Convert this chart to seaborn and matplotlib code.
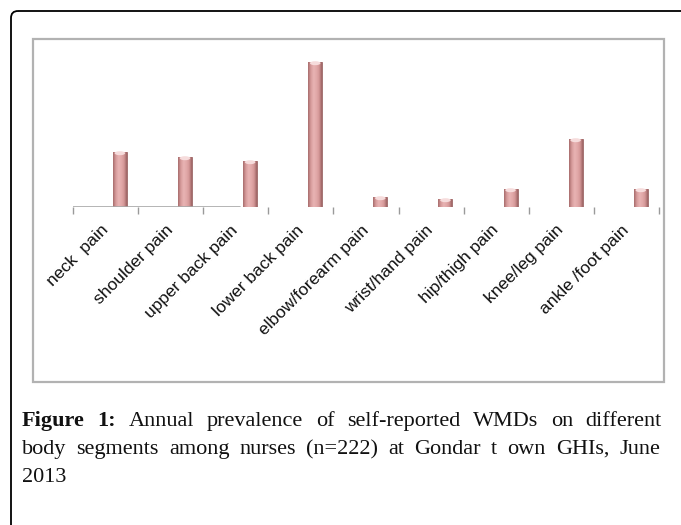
import numpy as np
import matplotlib
matplotlib.use("Agg")
import matplotlib.pyplot as plt
import seaborn as sns
from matplotlib.colors import LinearSegmentedColormap
from matplotlib.patches import FancyBboxPatch, Rectangle, Ellipse

# data (number of nurses reporting pain, n=222)
parts = ["neck  pain", "shoulder pain", "upper back pain", "lower back pain",
         "elbow/forearm pain", "wrist/hand pain", "hip/thigh pain",
         "knee/leg pain", "ankle /foot pain"]
counts = [55, 50, 46, 145, 10, 8, 18, 68, 18]

caption1 = ["Figure", "1:", "Annual", "prevalence", "of", "self-reported", "WMDs",
            "on", "different"]
caption2 = ["body", "segments", "among", "nurses", "(n=222)", "at", "Gondar", "t",
            "own", "GHIs,", "June"]
caption3 = "2013"

sns.set_style("white")
plt.rcParams["font.family"] = ["Liberation Sans", "DejaVu Sans"]

W, H = 681, 525
fig = plt.figure(figsize=(W / 100, H / 100), dpi=100)

# background axes in pixel units for the frames and the caption
bg = fig.add_axes([0, 0, 1, 1], zorder=0)
bg.set_xlim(0, W)
bg.set_ylim(H, 0)
bg.axis("off")
bg.add_patch(FancyBboxPatch((11, 11), 720, 560, boxstyle="round,pad=0,rounding_size=7",
                            fill=False, edgecolor="black", linewidth=1.3))
bg.add_patch(Rectangle((33, 39), 631, 343, fill=False, edgecolor="#b2b2b2", linewidth=1.6))

# chart axes
ax = fig.add_axes([73 / W, (H - 207) / H, 586 / W, 162 / H], zorder=1)
ax.patch.set_alpha(0)
sns.barplot(x=parts, y=counts, order=parts, ax=ax, width=0.215, color="#dca4a4",
            edgecolor="#9a6464", linewidth=0.6)

cmap = LinearSegmentedColormap.from_list(
    "bar", ["#a86c6c", "#d69b9b", "#e8b3b3", "#e2aaaa", "#d49797", "#9e6464"])
grad = np.linspace(0, 1, 64).reshape(1, -1)
for p in ax.patches:
    p.set_x(p.get_x() + 0.22)
    x, w, h = p.get_x(), p.get_width(), p.get_height()
    im = ax.imshow(grad, extent=[x, x + w, 0, h], cmap=cmap, aspect="auto",
                   zorder=p.get_zorder() + 0.1)
    im.set_clip_path(p)
    cap = Ellipse((x + w / 2, h - 1.2), w * 0.75, 4, facecolor="#f6dcdc",
                  edgecolor="none", zorder=p.get_zorder() + 0.2)
    cap.set_clip_path(p)
    ax.add_patch(cap)

ax.set_xlim(-0.5, len(parts) - 0.5)
ax.set_ylim(0, 162)
for s in ax.spines.values():
    s.set_visible(False)
ax.set_yticks([])
ax.axhline(0, xmin=0, xmax=0.285, color="#a8a8a8", linewidth=1.2)
ax.set_xticks(np.arange(-0.5, len(parts)), minor=True)
ax.tick_params(axis="x", which="minor", length=5, width=1, color="#9a9a9a",
               direction="out", bottom=True)
ax.tick_params(axis="x", which="major", length=0, pad=15)
ax.set_xticks(range(len(parts)))
ax.set_xticklabels(parts, rotation=45, ha="right", va="center",
                   rotation_mode="anchor", fontsize=12.5, color="#111111")
ax.set_xlabel("")
ax.set_ylabel("")

# caption, justified like the source page
serif = ["Liberation Serif", "DejaVu Serif"]
cap_size = 16


def justify(words, y, x0, x1, bold_n=0):
    texts = []
    for i, wd in enumerate(words):
        t = bg.text(0, y, wd, fontsize=cap_size, family=serif, va="baseline",
                    fontweight="bold" if i < bold_n else "normal", color="#111111")
        texts.append(t)
    fig.canvas.draw()
    r = fig.canvas.get_renderer()
    widths = [t.get_window_extent(r).width for t in texts]
    gap = (x1 - x0 - sum(widths)) / (len(words) - 1)
    x = x0
    for t, wd in zip(texts, widths):
        t.set_x(x)
        x += wd + gap


justify(caption1, 426, 22, 662, bold_n=2)
justify(caption2, 454, 22, 660)
bg.text(22, 482, caption3, fontsize=cap_size, family=serif, va="baseline", color="#111111")

fig.savefig("out.png", dpi=100)
